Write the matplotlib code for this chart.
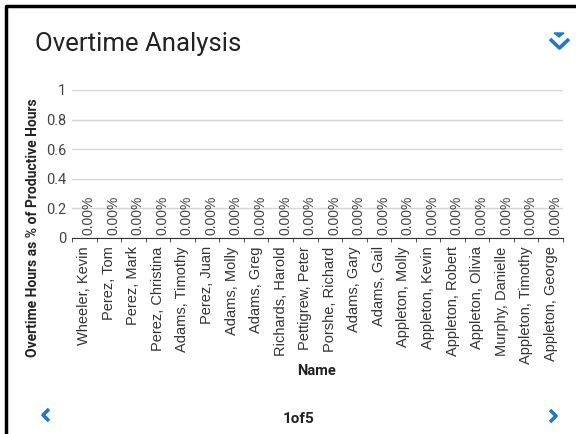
import matplotlib
matplotlib.use("Agg")
import matplotlib.pyplot as plt
from matplotlib.lines import Line2D
import numpy as np

plt.rcParams['font.family'] = ['Roboto', 'DejaVu Sans']

names = ["Wheeler, Kevin", "Perez, Tom", "Perez, Mark", "Perez, Christina",
         "Adams, Timothy", "Perez, Juan", "Adams, Molly", "Adams, Greg",
         "Richards, Harold", "Pettigrew, Peter", "Porshe, Richard", "Adams, Gary",
         "Adams, Gail", "Appleton, Molly", "Appleton, Kevin", "Appleton, Robert",
         "Appleton, Olivia", "Murphy, Danielle", "Appleton, Timothy", "Appleton, George"]
overtime_pct = [0.0] * len(names)
yticks = [0, 0.2, 0.4, 0.6, 0.8, 1]
page_label = "1of5"

W, H = 576, 434
fig = plt.figure(figsize=(W / 100, H / 100), dpi=100)
fig.patch.set_facecolor('white')

# plot area in pixels: left 72, right 563, bottom (y=0) 238, top (y=1) 90
ax = fig.add_axes([72 / W, 1 - 238 / H, (563 - 72) / W, (238 - 90) / H])
x = np.arange(len(names))
ax.bar(x, overtime_pct, width=0.6, color='#1f78c8')
ax.set_xlim(-0.5, len(names) - 0.5)
ax.set_ylim(0, 1)

for xi, v in zip(x, overtime_pct):
    ax.text(xi + 0.18, v + 0.02, "%.2f%%" % v, rotation=90, ha='center', va='bottom',
            fontsize=10, color='#444444', family='Liberation Sans')

ax.set_yticks(yticks)
ax.set_yticklabels([("%g" % t) for t in yticks], fontsize=10.5, color='#444444')
ax.yaxis.grid(True, color='#d6d6d6', linewidth=1)
ax.set_axisbelow(True)
ax.tick_params(axis='y', length=0, pad=4)

ax.set_xticks(x)
ax.set_xticklabels(names, rotation=90, fontsize=10.5, color='#333333', family='Liberation Sans')
ax.tick_params(axis='x', length=0, pad=6)
ax.set_xticks(np.arange(len(names) + 1) - 0.5, minor=True)
ax.tick_params(axis='x', which='minor', length=3, color='#333333')

for s in ['top', 'right', 'left']:
    ax.spines[s].set_visible(False)
ax.spines['bottom'].set_color('#333333')

fig.text(33 / W, 1 - 228 / H, "Overtime Hours as % of Productive Hours", rotation=90,
         ha='center', va='center', fontsize=10, fontweight='bold', color='#222222')
fig.text(317 / W, 1 - 371 / H, "Name", ha='center', va='center', fontsize=10.5,
         fontweight='bold', color='#222222')

# card header and pager
fig.text(35 / W, 1 - 44 / H, "Overtime Analysis", ha='left', va='center', fontsize=18.5, color='#222222')
fig.text(299 / W, 1 - 419 / H, page_label, ha='center', va='center', fontsize=11,
         fontweight='bold', color='#222222')

blue = '#1f78c8'
def px(pts):
    return [p[0] / W for p in pts], [1 - p[1] / H for p in pts]

for pts in ([(49, 409), (43, 415), (49, 421)], [(550, 410), (556, 416), (550, 422)],
            [(550, 39), (559.5, 48), (569, 39)]):
    xs, ys = px(pts)
    fig.add_artist(Line2D(xs, ys, color=blue, linewidth=2.6, solid_capstyle='butt'))
xs, ys = px([(554, 33), (564, 33), (559, 37)])
fig.add_artist(plt.Polygon(list(zip(xs, ys)), closed=True, color=blue, transform=fig.transFigure))

# card border (left and top edges)
xs, ys = px([(6, 434), (6, 6), (576, 6)])
fig.add_artist(Line2D(xs, ys, color='black', linewidth=2.5))

fig.savefig("out.png", dpi=100)
